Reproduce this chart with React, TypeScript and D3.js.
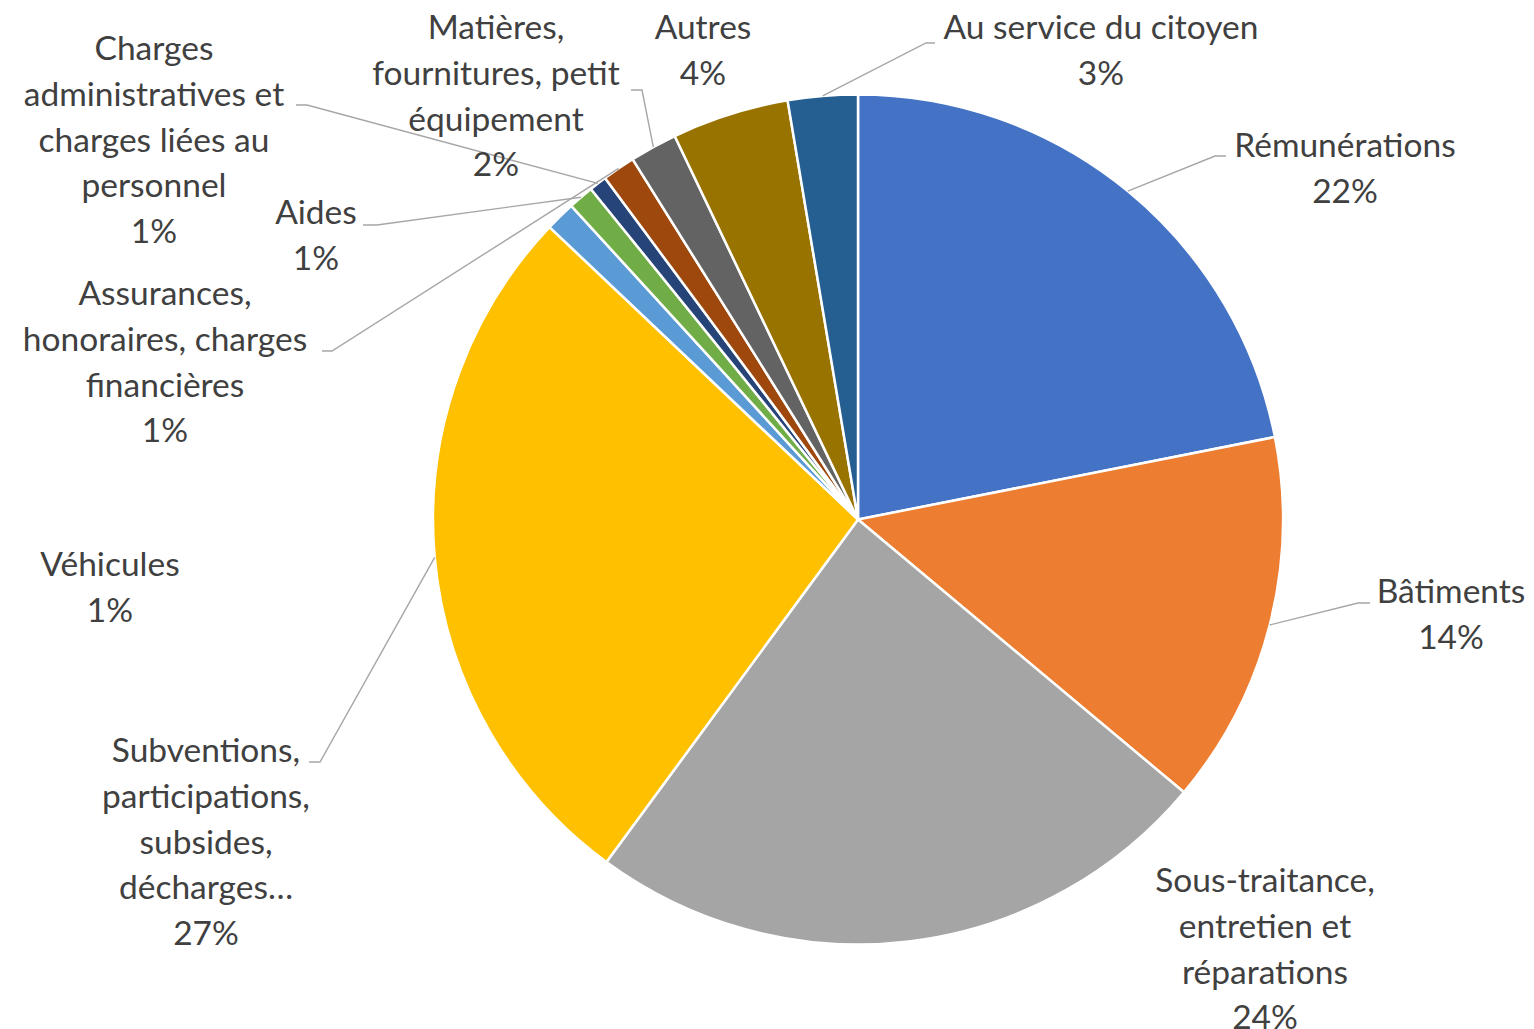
import React from "react";
import * as d3 from "d3";

const categories = [
  "Rémunérations",
  "Bâtiments",
  "Sous-traitance, entretien et réparations",
  "Subventions, participations, subsides, décharges…",
  "Véhicules",
  "Aides",
  "Charges administratives et charges liées au personnel",
  "Assurances, honoraires, charges financières",
  "Matières, fournitures, petit équipement",
  "Autres",
  "Au service du citoyen",
];

const values = [21.9, 14.2, 24.0, 27.0, 1.14, 0.97, 0.67, 1.25, 1.8, 4.45, 2.65];

const colors = [
  "#4472C4", "#ED7D31", "#A5A5A5", "#FFC000", "#5B9BD5", "#70AD47",
  "#264478", "#9E480E", "#636363", "#997300", "#255E91",
];

// label text lines (as wrapped in the reference)
const labelLines = [
  ["Rémunérations"],
  ["Bâtiments"],
  ["Sous-traitance,", "entretien et", "réparations"],
  ["Subventions,", "participations,", "subsides,", "décharges…"],
  ["Véhicules"],
  ["Aides"],
  ["Charges", "administratives et", "charges liées au", "personnel"],
  ["Assurances,", "honoraires, charges", "financières"],
  ["Matières,", "fournitures, petit", "équipement"],
  ["Autres"],
  ["Au service du citoyen"],
];

// layout of labels: centre x, first baseline, leader elbow & end (null = no leader)
const labelLayout = [
  { cx: 1345, by: 157, elbow: [1215, 156], end: 1226 },
  { cx: 1451, by: 603, elbow: [1358, 603], end: 1370 },
  { cx: 1265, by: 892, elbow: null, end: 0 },
  { cx: 206, by: 762, elbow: [320, 762], end: 309 },
  { cx: 110, by: 576, elbow: null, end: 0 },
  { cx: 316, by: 224, elbow: [377, 225], end: 363 },
  { cx: 154, by: 60, elbow: [307, 105], end: 296 },
  { cx: 165, by: 305, elbow: [332, 351], end: 322 },
  { cx: 496, by: 39, elbow: [642, 90], end: 631 },
  { cx: 703, by: 39, elbow: null, end: 0 },
  { cx: 1101, by: 39, elbow: [926, 43], end: 935 },
];

const W = 1534;
const H = 1029;
const CX = 858;
const CY = 519.5;
const R = 425;
const LINE_H = 45.8;
const FONT = "Lato, 'Open Sans', sans-serif";
const FONT_SIZE = 33.5;

export default function App() {
  const total = d3.sum(values);
  const pie = d3
    .pie<number>()
    .sort(null)
    .value((d) => d);
  const arcs = pie(values);
  const arc = d3.arc<d3.PieArcDatum<number>>().innerRadius(0).outerRadius(R);

  return (
    <svg
      width={W}
      height={H}
      style={{ position: "absolute", left: 0, top: 0, background: "#fff" }}
    >
      <g transform={`translate(${CX},${CY})`}>
        {arcs.map((a, i) => (
          <path
            key={i}
            d={arc(a) || ""}
            fill={colors[i]}
            stroke="#fff"
            strokeWidth={2.5}
            strokeLinejoin="round"
          />
        ))}
      </g>
      {arcs.map((a, i) => {
        const L = labelLayout[i];
        if (!L.elbow) return null;
        const mid = (a.startAngle + a.endAngle) / 2;
        const sx = CX + R * Math.sin(mid);
        const sy = CY - R * Math.cos(mid);
        const pts = [
          [sx, sy],
          [L.elbow[0], L.elbow[1]],
          [L.end, L.elbow[1]],
        ] as [number, number][];
        return (
          <path
            key={"l" + i}
            d={d3.line()(pts) || ""}
            fill="none"
            stroke="#A6A6A6"
            strokeWidth={1.4}
          />
        );
      })}
      {arcs.map((a, i) => {
        const L = labelLayout[i];
        const pct = Math.round((values[i] / total) * 100) + "%";
        const lines = [...labelLines[i], pct];
        return (
          <text
            key={"t" + i}
            x={L.cx}
            y={L.by}
            textAnchor="middle"
            fontFamily={FONT}
            fontSize={FONT_SIZE}
            fill="#404040"
          >
            {lines.map((s, j) => (
              <tspan key={j} x={L.cx} y={L.by + j * LINE_H}>
                {s}
              </tspan>
            ))}
          </text>
        );
      })}
    </svg>
  );
}
